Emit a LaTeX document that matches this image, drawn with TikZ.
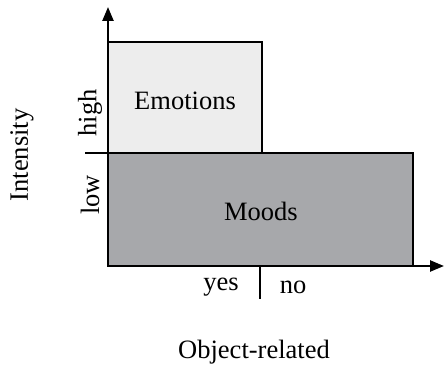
\documentclass[tikz,border=0pt]{standalone}
\usepackage{fontspec}
\setmainfont{Liberation Serif}
\usetikzlibrary{arrows.meta}
\definecolor{emofill}{HTML}{EDEDED}
\definecolor{moodfill}{HTML}{A7A8AB}
\begin{document}
\begin{tikzpicture}[x=1pt,y=-1pt,
  region/.style={draw=black,line width=1.2pt},
  axis/.style={line width=2.4pt,-{Triangle[length=14pt,width=11pt]}},
  tick/.style={line width=1.2pt},
  lbl/.style={font=\fontsize{26.5}{30}\selectfont,inner sep=0pt}]
\useasboundingbox (0,0) rectangle (444,366);
% regions
\draw[region,fill=emofill] (108,42) rectangle (262,153);
\draw[region,fill=moodfill] (108,153) rectangle (413,266);
\node[lbl] (emo) at (185,101) {Emotions};
\node[lbl] (mood) at (261,211) {Moods};
% axes
\coordinate (o) at (108,266);
\coordinate (ytip) at (108,7);
\coordinate (xtip) at (444,266);
\draw[axis] (o) -- (ytip);
\draw[axis] (o) -- (xtip);
% ticks
\coordinate (ht1) at (85,153);
\coordinate (ht2) at (108,153);
\draw[tick] (ht1) -- (ht2);
\coordinate (vt1) at (260,266);
\coordinate (vt2) at (260,299);
\draw[tick] (vt1) -- (vt2);
% axis labels
\node[lbl,rotate=90] (high) at (90,113) {high};
\node[lbl,rotate=90] (low) at (90,195) {low};
\node[lbl,rotate=90] (int) at (22,155) {Intensity};
\node[lbl] (yes) at (221,287) {yes};
\node[lbl] (no) at (293,287) {no};
\node[lbl] (obj) at (254,352) {Object-related};
\end{tikzpicture}
\end{document}
